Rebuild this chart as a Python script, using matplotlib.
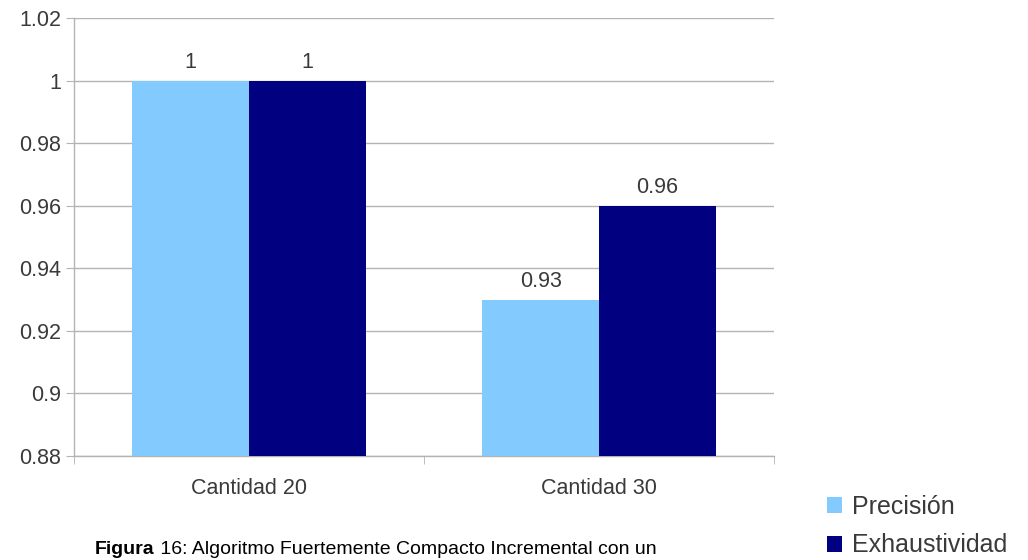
import matplotlib
matplotlib.use("Agg")
import matplotlib.pyplot as plt
from matplotlib import font_manager
import numpy as np

categories = ["Cantidad 20", "Cantidad 30"]
precision = [1.00, 0.93]
exhaustividad = [1.00, 0.96]
series_names = ["Precisión", "Exhaustividad"]
yticks = [0.88, 0.90, 0.92, 0.94, 0.96, 0.98, 1.00, 1.02]
ytick_labels = ["0.88", "0.9", "0.92", "0.94", "0.96", "0.98", "1", "1.02"]
caption_bold = "Figura"
caption_rest = " 16: Algoritmo Fuertemente Compacto Incremental con un"

available = {f.name for f in font_manager.fontManager.ttflist}
base_font = "Liberation Sans" if "Liberation Sans" in available else "DejaVu Sans"
narrow_font = "Liberation Sans Narrow" if "Liberation Sans Narrow" in available else None
caption_size = 16.5 if narrow_font else 14
caption_family = [narrow_font or base_font, "DejaVu Sans"]
plt.rcParams["font.family"] = [base_font, "DejaVu Sans"]

light = "#83caff"
dark = "#000080"
grid_c = "#b3b3b3"
text_c = "#3a3a3a"

fig = plt.figure(figsize=(10.28, 5.6), dpi=100)
ax = fig.add_axes([74 / 1028, 1 - 456 / 560, 700 / 1028, (456 - 18) / 560])

x = np.arange(len(categories))
w = 1 / 3
b1 = ax.bar(x - w / 2, precision, width=w, color=light, label=series_names[0], zorder=3)
b2 = ax.bar(x + w / 2, exhaustividad, width=w, color=dark, label=series_names[1], zorder=3)

for bars, vals in ((b1, precision), (b2, exhaustividad)):
    for rect, v in zip(bars, vals):
        ax.annotate(f"{v:g}", (rect.get_x() + rect.get_width() / 2, v),
                    xytext=(0, 5.5), textcoords="offset points",
                    ha="center", va="bottom", fontsize=15.5, color=text_c)

ax.set_xlim(-0.5, 1.5)
ax.set_ylim(0.88, 1.02)
ax.set_yticks(yticks)
ax.set_yticklabels(ytick_labels)
ax.set_xticks(x)
ax.set_xticklabels(categories)
ax.set_xticks([-0.5, 0.5, 1.5], minor=True)

ax.grid(axis="y", color=grid_c, linewidth=1, zorder=0)
ax.set_axisbelow(True)
for s in ("top", "right"):
    ax.spines[s].set_visible(False)
for s in ("left", "bottom"):
    ax.spines[s].set_color(grid_c)
    ax.spines[s].set_linewidth(1)

ax.tick_params(axis="y", length=6, color=grid_c, labelsize=15.5, labelcolor=text_c, pad=3)
ax.tick_params(axis="x", which="major", length=0, labelsize=15.5, labelcolor=text_c, pad=16)
ax.tick_params(axis="x", which="minor", length=6, color=grid_c)

fig.legend(handles=[b1, b2], labels=series_names, loc="upper left",
           bbox_to_anchor=(827 / 1028, 1 - 495 / 560), frameon=False,
           fontsize=18, labelcolor=text_c, handlelength=0.6, handleheight=0.6,
           handletextpad=0.4, labelspacing=0.58, borderpad=0, borderaxespad=0)

t = fig.text(95 / 1028, 1 - 554 / 560, caption_bold, fontsize=caption_size, fontweight="bold",
             family=caption_family, color="black", ha="left", va="baseline")
ax.annotate(caption_rest, xy=(1, 0), xycoords=t, xytext=(0, 0), textcoords="offset points",
            fontsize=caption_size, family=caption_family, color="black",
            ha="left", va="bottom", annotation_clip=False)

fig.savefig("out.png", dpi=100, facecolor="white")
